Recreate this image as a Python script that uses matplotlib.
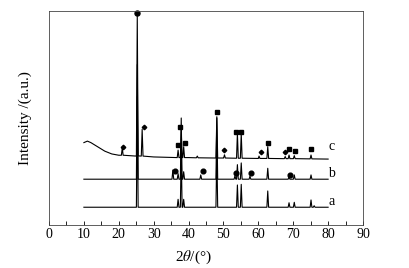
import matplotlib
matplotlib.use("Agg")
import matplotlib.pyplot as plt
import numpy as np

plt.rcParams['font.family'] = ['Liberation Serif', 'DejaVu Serif']
plt.rcParams['mathtext.fontset'] = 'stix'

# ---- data (2theta in degrees, intensity in arbitrary units) ----
a_base = 8.3
a_peaks_pos = [25.3, 37.0, 37.9, 38.6, 48.1, 54.0, 55.1, 62.7, 68.8, 70.3, 75.1, 76.0]
a_peaks_top = [60.0, 12.0, 35.0, 12.0, 35.0, 18.7, 19.0, 15.9, 10.4, 10.6, 11.7, 9.0]

b_base = 21.4
b_peaks_pos = [25.3, 35.5, 37.0, 37.9, 38.6, 43.5, 48.1, 53.3, 54.0, 55.1, 57.6, 62.7, 68.8, 70.3, 75.1]
b_peaks_top = [75.0, 25.7, 24.0, 50.0, 24.9, 23.4, 50.0, 23.0, 28.2, 29.0, 22.8, 26.5, 22.6, 23.4, 23.4]

c_base_x = [10, 11, 12, 14, 16, 18, 20, 25, 30, 40, 50, 60, 70, 80]
c_base_y = [38.5, 39.2, 38.5, 36.5, 34.5, 33.2, 32.6, 32.2, 31.8, 31.5, 31.3, 31.1, 31.0, 30.8]
c_peaks_pos = [21.0, 25.3, 26.7, 37.0, 37.9, 38.6, 42.5, 48.1, 50.3, 54.0, 55.1, 60.2, 62.7, 67.7, 68.8, 70.3, 75.1]
c_peaks_top = [36.1, 98.1, 44.7, 35.0, 44.4, 36.6, 32.2, 50.6, 32.8, 42.8, 42.8, 32.2, 36.6, 32.0, 32.7, 32.4, 32.7]
c_peaks_base = [32.6, 32.3, 32.2, 31.5, 31.5, 31.5, 31.4, 31.3, 31.3, 31.2, 31.2, 31.1, 31.1, 31.0, 31.0, 31.0, 30.9]

# phase markers
circle_top_x = [25.3]
circle_top_y = [99.0]
diamond_x = [21.3, 27.3, 50.3, 60.7, 67.6]
diamond_y = [36.3, 45.8, 35.0, 34.0, 33.9]
square_x = [37.0, 37.5, 39.0, 48.1, 53.5, 55.1, 62.7, 68.9, 70.5, 75.0]
square_y = [37.4, 45.8, 38.5, 52.8, 43.3, 43.3, 38.5, 35.5, 34.7, 35.5]
circle_b_x = [36.0, 44.2, 53.7, 58.0, 69.0]
circle_b_y = [25.2, 25.2, 24.2, 24.2, 23.4]

labels = ['a', 'b', 'c']
label_y = [11.2, 24.2, 36.6]


def profile(bx, by, pos, top, base, w=0.25):
    xs = list(bx)
    ys = list(by)
    for p, t, b0 in zip(pos, top, base):
        xs += [p - w, p, p + w]
        ys += [b0, t, b0]
    order = np.argsort(xs, kind='stable')
    return np.array(xs)[order], np.array(ys)[order]


fig = plt.figure(figsize=(4.09, 2.68), dpi=100)
ax = fig.add_axes([49/409, 1 - 225/268, 314/409, 214/268])

xa, ya = profile([10, 80], [a_base, a_base], a_peaks_pos, a_peaks_top, [a_base]*len(a_peaks_pos))
xb, yb = profile([10, 80], [b_base, b_base], b_peaks_pos, b_peaks_top, [b_base]*len(b_peaks_pos))
xc, yc = profile(c_base_x, c_base_y, c_peaks_pos, c_peaks_top, c_peaks_base)

for x, y in [(xa, ya), (xb, yb), (xc, yc)]:
    ax.plot(x, y, color='black', lw=0.8)

ax.plot(circle_top_x, circle_top_y, 'o', color='black', ms=3.6, clip_on=False)
ax.plot(circle_b_x, circle_b_y, 'o', color='black', ms=3.4)
ax.plot(square_x, square_y, 's', color='black', ms=3.1)
ax.plot(diamond_x, diamond_y, 'D', color='black', ms=2.3)

for lab, ly in zip(labels, label_y):
    ax.text(80.0, ly, lab, fontsize=10, ha='left', va='center')

ax.set_xlim(0, 90)
ax.set_ylim(0, 100)
ax.set_xticks(range(0, 91, 10))
ax.set_xticks(range(5, 90, 10), minor=True)
ax.tick_params(axis='x', which='both', direction='in', length=3, width=0.6, labelsize=10, pad=2)
ax.set_yticks([])
for s in ax.spines.values():
    s.set_linewidth(0.6)
    s.set_color('#444444')

ax.set_xlabel(r'2$\theta$/(°)', fontsize=11)
ax.xaxis.set_label_coords(0.459, -0.112)
ax.set_ylabel('Intensity /(a.u.)', fontsize=11, labelpad=12)

fig.savefig('out.png', dpi=100)
